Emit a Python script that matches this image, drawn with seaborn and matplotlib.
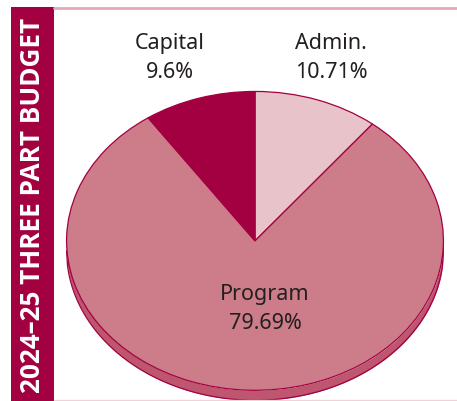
import numpy as np
import matplotlib
matplotlib.use("Agg")
import matplotlib.pyplot as plt
import seaborn as sns

# budget shares, 2024-25
categories = ["Admin.", "Program", "Capital"]
shares = [10.71, 79.69, 9.6]
share_labels = ["10.71%", "79.69%", "9.6%"]
colors = ["#E8C3C9", "#CC7D89", "#A30041"]
side_color = "#BF566F"
edge_color = "#A30041"
band_title = "2024–25 THREE PART BUDGET"

sns.set_theme(style="white")
plt.rcParams["font.family"] = ["Noto Sans", "DejaVu Sans"]

W, H = 457, 402
fig = plt.figure(figsize=(W / 100, H / 100), dpi=100)
fig.patch.set_facecolor("white")

# pie axes: top face spans x 66..444, y 92..392 px, plus ~10 px of depth
depth = 10 / 150
ax = fig.add_axes([66 / W, 1 - 402 / H, 378 / W, 310 / H])
wedges, _ = ax.pie(shares, colors=colors, startangle=90, counterclock=False,
                   wedgeprops=dict(edgecolor=edge_color, linewidth=0.9))
for w in wedges:
    w.set_zorder(3)
ax.set_aspect("auto")
ax.set_xlim(-1.003, 1.003)
ax.set_ylim(-1 - depth - 0.005, 1.003)
ax.axis("off")

# side wall of the 3d disc
xs = np.linspace(-1, 1, 400)
lower = -np.sqrt(1 - xs ** 2)
ax.fill_between(xs, lower, lower - depth, color=side_color, zorder=1, lw=0)
ax.plot(xs, lower - depth, color=edge_color, lw=0.9, zorder=2)
ax.plot([-1, -1], [0, -depth], color=edge_color, lw=0.9, zorder=2)
ax.plot([1, 1], [0, -depth], color=edge_color, lw=0.9, zorder=2)

# slice labels
label_pos = {"Capital": (170, 58), "Admin.": (331, 58), "Program": (265, 309)}
for cat, lab in zip(categories, share_labels):
    px, py = label_pos[cat]
    fig.text(px / W, 1 - py / H, f"{cat}\n{lab}", ha="center", va="center",
             fontsize=15.5, color="#231F20", linespacing=1.55)

# left band with vertical title
band = fig.add_axes([11 / W, 0, 43 / W, 1 - 8 / H])
band.set_facecolor("#A30041")
band.set_xticks([])
band.set_yticks([])
for s in band.spines.values():
    s.set_visible(False)
band.text(0.5, 0.5, band_title, rotation=90, ha="center", va="center",
          transform=band.transAxes, color="white", fontsize=18.8,
          fontweight="bold", family=["Open Sans", "DejaVu Sans"])

# rules at top and bottom
fig.add_artist(plt.Line2D([54 / W, 1], [1 - 9 / H, 1 - 9 / H], color="#E2A9B5", lw=2))
fig.add_artist(plt.Line2D([54 / W, 1], [1 - 401 / H, 1 - 401 / H], color="#F0D3D9", lw=1))

fig.savefig("out.png", dpi=100)
